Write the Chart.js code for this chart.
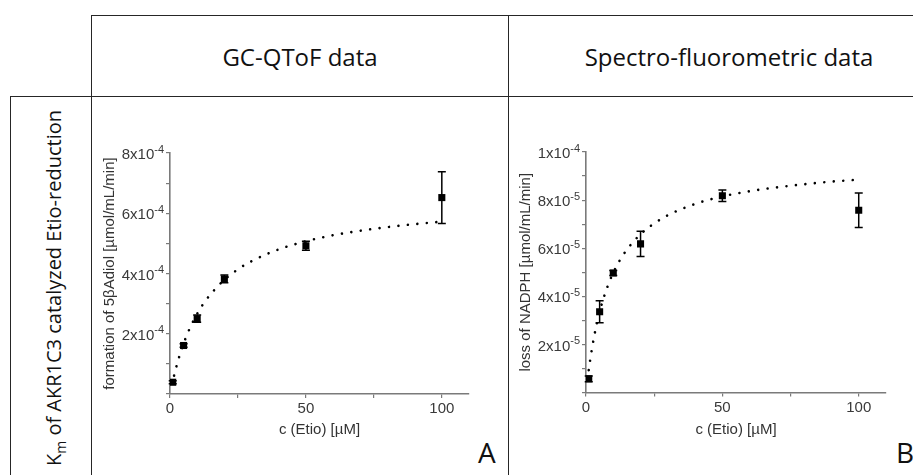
<!DOCTYPE html>
<html>
<head>
<meta charset="utf-8">
<script src="https://cdn.jsdelivr.net/npm/chart.js@4.4.1/dist/chart.umd.min.js"></script>
<style>
  html, body { margin: 0; padding: 0; background: #fff; }
  body { width: 913px; height: 475px; position: relative; overflow: hidden; }
  .hl, .vl { position: absolute; background: #262626; }
  .hl { height: 1.5px; }
  .vl { width: 1.5px; }
  .txt { position: absolute; font-family: "Open Sans", sans-serif; color: #111; white-space: nowrap; }
  canvas { position: absolute; }
</style>
</head>
<body>
<!-- table grid -->
<div class="hl" style="left:91px; top:14.5px; width:822px;"></div>
<div class="hl" style="left:10px; top:95.5px; width:903px;"></div>
<div class="vl" style="left:90.5px; top:14.5px; height:461px;"></div>
<div class="vl" style="left:507.5px; top:14.5px; height:461px;"></div>
<div class="vl" style="left:9.5px; top:95.5px; height:380px;"></div>

<!-- headers -->
<div class="txt" style="font-size:24px; left:300px; top:40px; transform:translateX(-50%);">GC-QToF data</div>
<div class="txt" style="font-size:24px; left:729px; top:40px; transform:translateX(-50%);">Spectro-fluorometric data</div>
<div class="txt" style="font-size:20px; left:55px; top:288px; transform:translate(-50%,-50%) rotate(-90deg);">K<sub style="font-size:14px;">m</sub> of AKR1C3 catalyzed Etio-reduction</div>
<div class="txt" style="font-size:28px; left:478px; top:433px;">A</div>
<div class="txt" style="font-size:28px; left:896px; top:433px;">B</div>

<canvas id="chartA" width="415" height="378" style="left:92px; top:97px;"></canvas>
<canvas id="chartB" width="404" height="378" style="left:509px; top:97px;"></canvas>

<script>
// --- GC-QToF data (panel A) ---
const concA = [1, 5, 10, 20, 50, 100];
const rateA = [3.9e-5, 1.61e-4, 2.50e-4, 3.82e-4, 4.92e-4, 6.52e-4];
const errA = [0.5e-5, 0.6e-5, 1.2e-5, 1.3e-5, 1.5e-5, 8.6e-5];
const fitXA = [1.5, 2, 3, 4, 5, 6, 8, 10, 12, 15, 20, 25, 30, 40, 50, 60, 70, 80, 90, 100];
const fitYA = [0.61e-4, 0.79e-4, 1.12e-4, 1.41e-4, 1.67e-4, 1.91e-4, 2.32e-4, 2.66e-4, 2.96e-4, 3.32e-4,
               3.79e-4, 4.14e-4, 4.41e-4, 4.80e-4, 5.07e-4, 5.27e-4, 5.42e-4, 5.54e-4, 5.64e-4, 5.72e-4];
const yTickValA = [2e-4, 4e-4, 6e-4, 8e-4];
const yTickTxtA = ['2x10', '4x10', '6x10', '8x10'];
const yTickExpA = ['-4', '-4', '-4', '-4'];

// --- Spectro-fluorometric data (panel B) ---
const concB = [1, 5, 10, 20, 50, 100];
const rateB = [5.7e-6, 3.36e-5, 4.97e-5, 6.18e-5, 8.18e-5, 7.58e-5];
const errB = [1.2e-6, 4.6e-6, 1.0e-6, 5.2e-6, 2.4e-6, 7.2e-6];
const fitXB = [1, 1.5, 2, 3, 4, 5, 6, 8, 10, 12, 15, 20, 25, 30, 40, 50, 60, 70, 80, 90, 100];
const fitYB = [0.93e-5, 1.33e-5, 1.69e-5, 2.34e-5, 2.88e-5, 3.35e-5, 3.76e-5, 4.44e-5, 4.98e-5, 5.42e-5,
               5.94e-5, 6.58e-5, 7.03e-5, 7.37e-5, 7.84e-5, 8.15e-5, 8.37e-5, 8.53e-5, 8.66e-5, 8.77e-5, 8.85e-5];
const yTickValB = [2e-5, 4e-5, 6e-5, 8e-5, 1e-4];
const yTickTxtB = ['2x10', '4x10', '6x10', '8x10', '1x10'];
const yTickExpB = ['-5', '-5', '-5', '-5', '-4'];

const FONT = '"Liberation Sans", Arial, sans-serif';
const AXIS = '#7a7a7a';

// error bars, drawn with the chart's own scales
const errorBars = {
  id: 'errorBars',
  afterDatasetsDraw(chart, args, opts) {
    const { ctx, scales: { x, y } } = chart;
    ctx.save();
    ctx.strokeStyle = '#000';
    ctx.lineWidth = 1.5;
    opts.xs.forEach((xv, i) => {
      const px = x.getPixelForValue(xv);
      const top = y.getPixelForValue(opts.ys[i] + opts.errs[i]);
      const bot = y.getPixelForValue(opts.ys[i] - opts.errs[i]);
      ctx.beginPath();
      ctx.moveTo(px, top); ctx.lineTo(px, bot);
      ctx.moveTo(px - 4, top); ctx.lineTo(px + 4, top);
      ctx.moveTo(px - 4, bot); ctx.lineTo(px + 4, bot);
      ctx.stroke();
    });
    ctx.restore();
  }
};

// y tick labels with superscript exponent
const expLabels = {
  id: 'expLabels',
  afterDraw(chart, args, opts) {
    const { ctx, scales: { y } } = chart;
    ctx.save();
    ctx.fillStyle = '#3a3a3a';
    opts.values.forEach((v, i) => {
      const py = y.getPixelForValue(v);
      const right = y.right - 6;
      ctx.font = '11px ' + FONT;
      const ew = ctx.measureText(opts.exps[i]).width;
      ctx.textAlign = 'left';
      ctx.textBaseline = 'alphabetic';
      ctx.fillText(opts.exps[i], right - ew, py - 0.5);
      ctx.font = '15px ' + FONT;
      ctx.textAlign = 'right';
      ctx.textBaseline = 'middle';
      ctx.fillText(opts.texts[i], right - ew, py + 2);
    });
    ctx.restore();
  }
};

function makeChart(id, cfg) {
  const pts = cfg.xs.map((x, i) => ({ x: x, y: cfg.ys[i] }));
  const fit = cfg.fitX.map((x, i) => ({ x: x, y: cfg.fitY[i] }));
  return new Chart(document.getElementById(id), {
    type: 'scatter',
    data: {
      datasets: [
        {
          data: fit, showLine: true, borderColor: '#000', borderWidth: 2.6,
          borderDash: [0.01, 9.5], borderCapStyle: 'round',
          cubicInterpolationMode: 'monotone', pointRadius: 0
        },
        {
          data: pts, pointStyle: 'rect', pointRadius: 5,
          backgroundColor: '#000', borderWidth: 0
        }
      ]
    },
    options: {
      responsive: false,
      animation: false,
      layout: { padding: { top: cfg.padTop, right: cfg.padRight, left: 0, bottom: 0 } },
      plugins: {
        legend: { display: false },
        tooltip: { enabled: false },
        errorBars: { xs: cfg.xs, ys: cfg.ys, errs: cfg.errs },
        expLabels: { values: cfg.tickVals, texts: cfg.tickTxt, exps: cfg.tickExp }
      },
      scales: {
        x: {
          type: 'linear', min: 0, max: 110,
          border: { color: AXIS, width: 1.6 },
          grid: { drawOnChartArea: false, tickLength: 4, color: AXIS, lineWidth: 1.2 },
          ticks: {
            stepSize: 25, includeBounds: false, autoSkip: false, maxRotation: 0,
            color: '#3a3a3a', font: { family: FONT, size: 15 }, padding: 2,
            callback: v => (v % 50 === 0 ? v : '')
          },
          title: {
            display: true, text: 'c (Etio) [µM]', color: '#333',
            font: { family: FONT, size: 15 }, padding: { top: 0, bottom: 36 }
          },
          afterFit: s => { s.height = cfg.xHeight; }
        },
        y: {
          type: 'linear', min: 0, max: cfg.yMax,
          border: { color: AXIS, width: 1.6 },
          grid: { drawOnChartArea: false, tickLength: 4, color: AXIS, lineWidth: 1.2 },
          ticks: { stepSize: cfg.yStep, includeBounds: false, callback: () => '' },
          title: {
            display: true, text: cfg.yTitle, color: '#333',
            font: { family: FONT, size: 15 }, padding: { top: cfg.yTitlePad, bottom: 0 }
          },
          afterFit: s => { s.width = cfg.yWidth; }
        }
      }
    },
    plugins: [errorBars, expLabels]
  });
}

makeChart('chartA', {
  xs: concA, ys: rateA, errs: errA, fitX: fitXA, fitY: fitYA,
  tickVals: yTickValA, tickTxt: yTickTxtA, tickExp: yTickExpA,
  yMax: 8e-4, yStep: 1e-4, yTitle: 'formation of 5βAdiol [µmol/mL/min]',
  padTop: 56, padRight: 38, xHeight: 81, yWidth: 78, yTitlePad: 9
});

makeChart('chartB', {
  xs: concB, ys: rateB, errs: errB, fitX: fitXB, fitY: fitYB,
  tickVals: yTickValB, tickTxt: yTickTxtB, tickExp: yTickExpB,
  yMax: 1e-4, yStep: 1e-5, yTitle: 'loss of NADPH [µmol/mL/min]',
  padTop: 55, padRight: 27, xHeight: 82.5, yWidth: 77, yTitlePad: 8
});
</script>
</body>
</html>
